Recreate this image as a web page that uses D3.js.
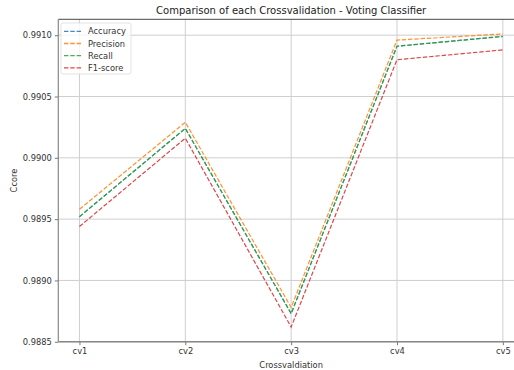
<!DOCTYPE html>
<html>
<head>
<meta charset="utf-8">
<script src="https://cdn.jsdelivr.net/npm/d3@7/dist/d3.min.js"></script>
<style>
  html, body { margin: 0; padding: 0; background: #fff; }
  svg { display: block; font-family: "DejaVu Sans", sans-serif; }
</style>
</head>
<body>
<svg id="chart" width="514" height="370"></svg>
<script>
// Cross-validation folds
const folds = ["cv1", "cv2", "cv3", "cv4", "cv5"];

// Scores per fold
const accuracy  = [0.98952, 0.99024, 0.98873, 0.99091, 0.99099];
const precision = [0.98958, 0.99029, 0.98878, 0.99096, 0.99101];
const recall    = [0.98952, 0.99024, 0.98873, 0.99091, 0.99099];
const f1score   = [0.98944, 0.99016, 0.98862, 0.99080, 0.99088];

const yTicks = [0.9885, 0.9890, 0.9895, 0.9900, 0.9905, 0.9910];

const series = [
  { name: "Accuracy",  values: accuracy,  color: "#1f77b4" },
  { name: "Precision", values: precision, color: "#ff7f0e" },
  { name: "Recall",    values: recall,    color: "#2ca02c" },
  { name: "F1-score",  values: f1score,   color: "#d62728" }
];

const svg = d3.select("#chart");
const plot = { left: 58.3, right: 524, top: 19.3, bottom: 341.7 };

// Pad both axes by 5% of the data span
const x = d3.scaleLinear()
  .domain([-0.2, folds.length - 1 + 0.2])
  .range([plot.left, plot.right]);

const all = series.flatMap(s => s.values);
const [ymin, ymax] = d3.extent(all);
const pad = (ymax - ymin) * 0.05;
const y = d3.scaleLinear()
  .domain([ymin - pad, ymax + pad])
  .range([plot.bottom, plot.top]);

// Grid
const grid = svg.append("g").attr("stroke", "#cfcfcf").attr("stroke-width", 1);
folds.forEach((f, i) => {
  grid.append("line")
    .attr("x1", x(i)).attr("x2", x(i))
    .attr("y1", plot.top).attr("y2", plot.bottom);
});
yTicks.forEach(t => {
  grid.append("line")
    .attr("x1", plot.left).attr("x2", plot.right)
    .attr("y1", y(t)).attr("y2", y(t));
});

// Axes
const xAxis = d3.axisBottom(x)
  .tickValues(d3.range(folds.length))
  .tickFormat(i => folds[i])
  .tickSize(3.5).tickPadding(3);
const yAxis = d3.axisLeft(y)
  .tickValues(yTicks)
  .tickFormat(d3.format(".4f"))
  .tickSize(3.5).tickPadding(3);

const gx = svg.append("g").attr("transform", `translate(0,${plot.bottom})`).call(xAxis);
const gy = svg.append("g").attr("transform", `translate(${plot.left},0)`).call(yAxis);
[gx, gy].forEach(g => {
  g.select(".domain").remove();
  g.selectAll(".tick line").attr("stroke", "#555").attr("stroke-width", 0.8);
  g.selectAll(".tick text")
    .attr("fill", "#333")
    .style("font-size", "8.3px")
    .style("font-family", "'DejaVu Sans', sans-serif");
});

// Spines
const spines = svg.append("g").attr("stroke", "#555").attr("stroke-width", 0.9).attr("fill", "none");
spines.append("line").attr("x1", plot.left).attr("x2", plot.right).attr("y1", plot.top).attr("y2", plot.top).attr("stroke", "#333");
spines.append("line").attr("x1", plot.left).attr("x2", plot.right).attr("y1", plot.bottom).attr("y2", plot.bottom).attr("stroke-width", 1.6).attr("stroke", "#888");
spines.append("line").attr("x1", plot.left).attr("x2", plot.left).attr("y1", plot.top).attr("y2", plot.bottom).attr("stroke", "#888").attr("stroke-width", 1.2);
spines.append("line").attr("x1", plot.right).attr("x2", plot.right).attr("y1", plot.top).attr("y2", plot.bottom);

// Series lines
const line = d3.line().x((d, i) => x(i)).y(d => y(d));
svg.append("g").selectAll("path")
  .data(series)
  .join("path")
  .attr("d", d => line(d.values))
  .attr("fill", "none")
  .attr("stroke", d => d.color)
  .attr("stroke-opacity", 0.85)
  .attr("stroke-width", 1.2)
  .attr("stroke-dasharray", "4.4,1.9");

// Title and axis labels
svg.append("text")
  .attr("x", (plot.left + plot.right) / 2).attr("y", 14)
  .attr("text-anchor", "middle")
  .attr("fill", "#222")
  .style("font-size", "10px")
  .text("Comparison of each Crossvalidation - Voting Classifier");

svg.append("text")
  .attr("x", (plot.left + plot.right) / 2).attr("y", 367.5)
  .attr("text-anchor", "middle")
  .attr("fill", "#333")
  .style("font-size", "8.3px")
  .text("Crossvaldiation");

svg.append("text")
  .attr("transform", `translate(17,${(plot.top + plot.bottom) / 2}) rotate(-90)`)
  .attr("text-anchor", "middle")
  .attr("fill", "#333")
  .style("font-size", "8.3px")
  .text("Ccore");

// Legend
const lg = svg.append("g").attr("transform", "translate(61,23)");
lg.append("rect")
  .attr("width", 70).attr("height", 51).attr("rx", 2)
  .attr("fill", "#fff").attr("fill-opacity", 0.8)
  .attr("stroke", "#dcdcdc").attr("stroke-width", 0.8);
series.forEach((s, i) => {
  const yy = 8.3 + i * 12.2;
  lg.append("line")
    .attr("x1", 3).attr("x2", 20).attr("y1", yy).attr("y2", yy)
    .attr("stroke", s.color).attr("stroke-opacity", 0.85)
    .attr("stroke-width", 1.3)
    .attr("stroke-dasharray", "4.4,1.9");
  lg.append("text")
    .attr("x", 27).attr("y", yy + 3)
    .attr("fill", "#333")
    .style("font-size", "8.3px")
    .text(s.name);
});
</script>
</body>
</html>
